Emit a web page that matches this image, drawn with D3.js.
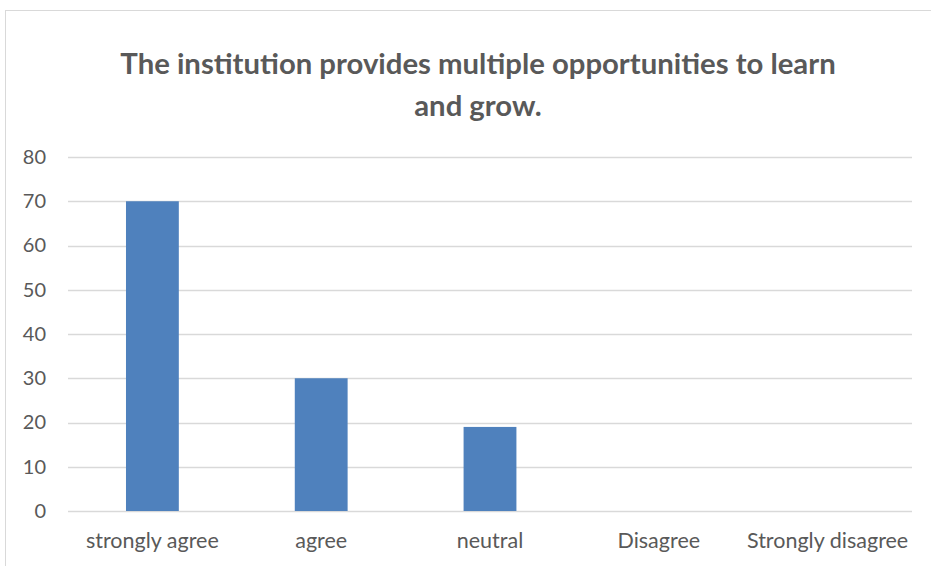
<!DOCTYPE html>
<html>
<head>
<meta charset="utf-8">
<script src="https://cdn.jsdelivr.net/npm/d3@7"></script>
<style>
  body { margin: 0; background: #fff; }
  svg { display: block; font-family: Lato, "Open Sans", sans-serif; }
</style>
</head>
<body>
<div id="chart"></div>
<script>
// survey answers and counts
let categories = ["strongly agree", "agree", "neutral", "Disagree", "Strongly disagree"];
let counts = [70, 30, 19, 0, 0];
let yTicks = [0, 10, 20, 30, 40, 50, 60, 70, 80];
let titleLines = ["The institution provides multiple opportunities to learn", "and grow."];

let W = 931, H = 566;
let margin = { top: 157, right: 19, bottom: 55, left: 68 };
let plotW = W - margin.left - margin.right,
  plotH = H - margin.top - margin.bottom;

let svg = d3.select("#chart").append("svg")
  .attr("width", W)
  .attr("height", H);

// chart border (right and bottom go off the page)
svg.append("rect")
  .attr("x", 5.5).attr("y", 10.5)
  .attr("width", W + 20).attr("height", H + 20)
  .attr("fill", "#fff")
  .attr("stroke", "#d9d9d9");

svg.append("text")
  .attr("x", 478).attr("y", 74)
  .attr("text-anchor", "middle")
  .attr("fill", "#595959")
  .attr("font-weight", "bold")
  .attr("font-size", 29.3)
  .selectAll("tspan")
  .data(titleLines)
  .join("tspan")
  .attr("x", 478)
  .attr("dy", (d, i) => i ? 42 : 0)
  .text(d => d);

let g = svg.append("g")
  .attr("transform", `translate(${margin.left},${margin.top})`);

let x = d3.scaleBand()
  .domain(categories)
  .range([0, plotW])
  .paddingInner(0.687)
  .paddingOuter(0.3435);

let y = d3.scaleLinear()
  .domain([0, 80])
  .range([plotH, 0]);

// gridlines
g.selectAll(".grid")
  .data(yTicks)
  .join("line")
  .attr("class", "grid")
  .attr("x1", 0).attr("x2", plotW)
  .attr("y1", d => Math.round(y(d)) + 0.5)
  .attr("y2", d => Math.round(y(d)) + 0.5)
  .attr("stroke", "#d9d9d9")
  .attr("stroke-width", 1.3);

g.selectAll(".bar")
  .data(counts)
  .join("rect")
  .attr("class", "bar")
  .attr("x", (d, i) => x(categories[i]))
  .attr("width", x.bandwidth())
  .attr("y", d => y(d))
  .attr("height", d => plotH - y(d))
  .attr("fill", "#4f81bd");

let yAxis = g.append("g")
  .call(d3.axisLeft(y).tickValues(yTicks).tickSize(0).tickPadding(22))
  .attr("font-family", null)
  .attr("font-size", 20);
yAxis.select(".domain").remove();
yAxis.selectAll("text")
  .attr("fill", "#595959");

let xAxis = g.append("g")
  .attr("transform", `translate(0,${plotH})`)
  .call(d3.axisBottom(x).tickSize(0).tickPadding(22))
  .attr("font-family", null)
  .attr("font-size", 21.5);
xAxis.select(".domain").remove();
xAxis.selectAll("text")
  .attr("fill", "#595959");
</script>
</body>
</html>
